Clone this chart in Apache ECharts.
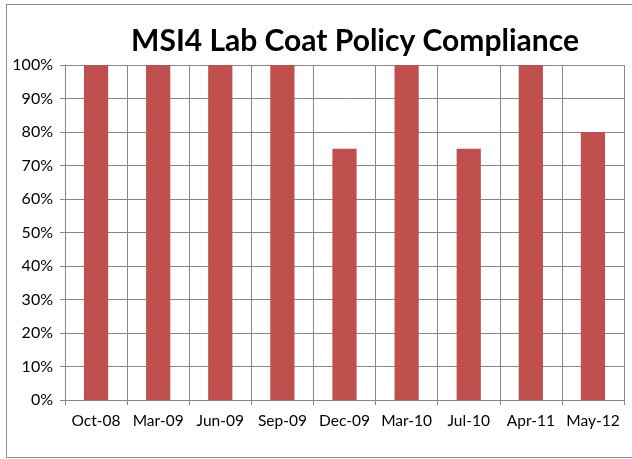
<!DOCTYPE html>
<html>
<head>
<meta charset="utf-8">
<script src="https://cdn.jsdelivr.net/npm/echarts@6/dist/echarts.min.js"></script>
<style>
	body { margin: 0; background: #fff; overflow: hidden; }
	#frame { position: absolute; left: 6px; top: 4px; width: 640px; height: 452px; border: 1px solid #8c8c8c; }
	#chart { position: absolute; left: 0; top: 0; width: 632px; height: 459px; }
</style>
</head>
<body>
<div id="frame"></div>
<div id="chart"></div>
<script>
	// reporting periods and compliance (fraction)
	const months = ['Oct-08', 'Mar-09', 'Jun-09', 'Sep-09', 'Dec-09', 'Mar-10', 'Jul-10', 'Apr-11', 'May-12'];
	const compliance = [1, 1, 1, 1, 0.75, 1, 0.75, 1, 0.8];

	const chart = echarts.init(document.getElementById('chart'));
	const grey = '#868686';
	const font = 'Lato, Calibri, sans-serif';

	chart.setOption({
		animation: false,
		title: {
			text: 'MSI4 Lab Coat Policy Compliance',
			left: 350,
			textAlign: 'center',
			top: 21,
			textStyle: { fontFamily: font, fontSize: 30, fontWeight: 'bold', color: '#000' }
		},
		grid: { left: 65, right: 8, top: 65, bottom: 59 },
		xAxis: {
			type: 'category',
			data: months,
			axisLine: { lineStyle: { color: grey, width: 1 } },
			axisTick: { show: true, length: 5, lineStyle: { color: grey } },
			splitLine: { show: true, lineStyle: { color: grey, width: 1 } },
			axisLabel: { color: '#000', fontSize: 15.5, fontFamily: font, margin: 13, interval: 0 }
		},
		yAxis: {
			type: 'value',
			min: 0,
			max: 1,
			interval: 0.1,
			axisLine: { show: true, lineStyle: { color: grey, width: 1 } },
			axisTick: { show: true, length: 5, lineStyle: { color: grey } },
			splitLine: { show: true, lineStyle: { color: grey, width: 1 } },
			axisLabel: {
				color: '#000', fontSize: 16, fontFamily: font, margin: 12,
				formatter: v => Math.round(v * 100) + '%'
			}
		},
		series: [{
			type: 'bar',
			data: compliance,
			barWidth: '39%',
			itemStyle: { color: '#C0504D' }
		}]
	});
</script>
</body>
</html>
